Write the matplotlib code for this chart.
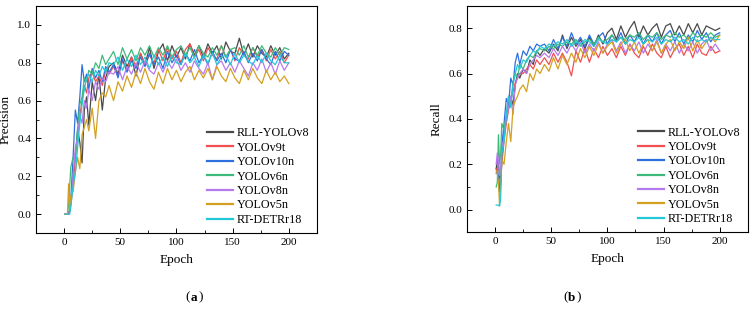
import matplotlib
matplotlib.use("Agg")
import matplotlib.pyplot as plt
from matplotlib.ticker import MultipleLocator

plt.rcParams['font.family'] = ['Liberation Serif', 'DejaVu Serif']

epochs = [1, 2, 3, 4, 5, 6, 8, 10, 12, 14, 16, 18, 20, 22, 25, 28, 31, 34, 37, 40,
          44, 48, 52, 56, 60, 64, 68, 72, 76, 80, 84, 88, 92, 96, 100, 104, 108, 112, 116, 120,
          124, 128, 132, 136, 140, 144, 148, 152, 156, 160, 164, 168, 172, 176, 180, 184, 188, 192, 196, 200]

models = ['RLL-YOLOv8', 'YOLOv9t', 'YOLOv10n', 'YOLOv6n', 'YOLOv8n', 'YOLOv5n', 'RT-DETRr18']
colors = ['#4a4a4a', '#f0504f', '#2e6fe0', '#3dba7a', '#b57aee', '#d4a020', '#23c8d6']

# Precision
prec_rll = [0.0, 0.0, 0.0, 0.01, 0.02, 0.08, 0.18, 0.30, 0.45, 0.38, 0.27, 0.55, 0.62, 0.47, 0.70, 0.60, 0.74, 0.55, 0.72, 0.78,
            0.80, 0.74, 0.84, 0.78, 0.83, 0.73, 0.85, 0.79, 0.88, 0.77, 0.86, 0.90, 0.81, 0.89, 0.83, 0.88, 0.82, 0.90, 0.84, 0.89,
            0.83, 0.90, 0.85, 0.89, 0.82, 0.91, 0.86, 0.85, 0.93, 0.84, 0.90, 0.83, 0.89, 0.85, 0.83, 0.89, 0.84, 0.88, 0.82, 0.85]
prec_v9t = [0.0, 0.0, 0.0, 0.0, 0.01, 0.05, 0.15, 0.32, 0.40, 0.52, 0.60, 0.68, 0.64, 0.72, 0.75, 0.70, 0.73, 0.68, 0.76, 0.74,
            0.78, 0.73, 0.81, 0.76, 0.83, 0.78, 0.85, 0.79, 0.84, 0.80, 0.87, 0.81, 0.88, 0.82, 0.86, 0.80, 0.87, 0.90, 0.83, 0.87,
            0.81, 0.88, 0.84, 0.82, 0.89, 0.83, 0.87, 0.81, 0.88, 0.84, 0.82, 0.88, 0.83, 0.87, 0.81, 0.87, 0.82, 0.86, 0.80, 0.84]
prec_v10n = [0.0, 0.0, 0.0, 0.0, 0.02, 0.08, 0.30, 0.55, 0.48, 0.62, 0.79, 0.70, 0.74, 0.66, 0.77, 0.72, 0.76, 0.70, 0.78, 0.75,
             0.79, 0.72, 0.82, 0.75, 0.81, 0.77, 0.83, 0.78, 0.85, 0.79, 0.83, 0.77, 0.86, 0.80, 0.84, 0.79, 0.85, 0.81, 0.87, 0.80,
             0.84, 0.79, 0.86, 0.81, 0.85, 0.80, 0.87, 0.82, 0.81, 0.86, 0.80, 0.85, 0.81, 0.87, 0.82, 0.79, 0.86, 0.81, 0.86, 0.84]
prec_v6n = [0.0, 0.0, 0.0, 0.05, 0.15, 0.25, 0.30, 0.28, 0.45, 0.58, 0.62, 0.72, 0.70, 0.76, 0.74, 0.80, 0.77, 0.84, 0.79, 0.82,
            0.86, 0.79, 0.88, 0.82, 0.87, 0.81, 0.88, 0.84, 0.89, 0.83, 0.88, 0.84, 0.89, 0.83, 0.87, 0.89, 0.84, 0.88, 0.83, 0.89,
            0.85, 0.83, 0.88, 0.84, 0.89, 0.83, 0.87, 0.88, 0.84, 0.89, 0.83, 0.88, 0.84, 0.89, 0.85, 0.83, 0.88, 0.84, 0.88, 0.87]
prec_v8n = [0.0, 0.0, 0.0, 0.0, 0.02, 0.06, 0.20, 0.35, 0.40, 0.52, 0.48, 0.60, 0.56, 0.66, 0.60, 0.70, 0.66, 0.72, 0.70, 0.75,
            0.74, 0.78, 0.71, 0.78, 0.74, 0.80, 0.75, 0.81, 0.76, 0.74, 0.80, 0.75, 0.81, 0.77, 0.82, 0.76, 0.80, 0.75, 0.81, 0.77,
            0.74, 0.80, 0.71, 0.79, 0.81, 0.76, 0.80, 0.75, 0.81, 0.77, 0.73, 0.80, 0.76, 0.82, 0.75, 0.80, 0.74, 0.81, 0.76, 0.80]
prec_v5n = [0.0, 0.0, 0.0, 0.16, 0.03, 0.10, 0.12, 0.22, 0.30, 0.24, 0.42, 0.46, 0.50, 0.44, 0.56, 0.40, 0.60, 0.64, 0.62, 0.68,
            0.60, 0.70, 0.65, 0.73, 0.67, 0.75, 0.69, 0.77, 0.70, 0.66, 0.75, 0.69, 0.77, 0.71, 0.76, 0.70, 0.75, 0.78, 0.71, 0.76,
            0.72, 0.77, 0.71, 0.78, 0.73, 0.70, 0.77, 0.72, 0.69, 0.76, 0.71, 0.77, 0.72, 0.69, 0.76, 0.71, 0.75, 0.70, 0.73, 0.69]
prec_detr = [0.0, 0.0, 0.0, 0.0, 0.0, 0.04, 0.15, 0.22, 0.35, 0.48, 0.58, 0.66, 0.72, 0.74, 0.70, 0.76, 0.73, 0.78, 0.75, 0.80,
             0.79, 0.83, 0.76, 0.82, 0.78, 0.84, 0.79, 0.83, 0.77, 0.84, 0.79, 0.83, 0.78, 0.84, 0.80, 0.79, 0.85, 0.80, 0.83, 0.78,
             0.84, 0.80, 0.85, 0.79, 0.83, 0.84, 0.79, 0.85, 0.80, 0.84, 0.81, 0.79, 0.84, 0.80, 0.85, 0.81, 0.79, 0.84, 0.80, 0.80]

# Recall
rec_rll = [0.18, 0.22, 0.20, 0.15, 0.12, 0.22, 0.33, 0.40, 0.45, 0.50, 0.46, 0.55, 0.60, 0.58, 0.62, 0.60, 0.66, 0.64, 0.70, 0.68,
           0.71, 0.69, 0.73, 0.70, 0.77, 0.71, 0.76, 0.72, 0.75, 0.71, 0.76, 0.72, 0.77, 0.73, 0.78, 0.80, 0.75, 0.81, 0.76, 0.80,
           0.83, 0.76, 0.81, 0.77, 0.80, 0.82, 0.76, 0.81, 0.82, 0.77, 0.81, 0.77, 0.82, 0.78, 0.82, 0.77, 0.81, 0.80, 0.79, 0.80]
rec_v9t = [0.18, 0.16, 0.14, 0.10, 0.12, 0.20, 0.30, 0.38, 0.44, 0.48, 0.52, 0.56, 0.58, 0.60, 0.60, 0.62, 0.64, 0.62, 0.66, 0.64,
           0.67, 0.64, 0.69, 0.65, 0.69, 0.65, 0.59, 0.70, 0.65, 0.71, 0.65, 0.71, 0.67, 0.72, 0.68, 0.71, 0.67, 0.72, 0.68, 0.73,
           0.69, 0.67, 0.72, 0.68, 0.73, 0.69, 0.67, 0.72, 0.67, 0.71, 0.73, 0.68, 0.72, 0.67, 0.73, 0.69, 0.68, 0.72, 0.69, 0.70]
rec_v10n = [0.16, 0.17, 0.15, 0.08, 0.12, 0.28, 0.38, 0.49, 0.46, 0.58, 0.55, 0.65, 0.69, 0.64, 0.70, 0.68, 0.72, 0.70, 0.73, 0.72,
            0.73, 0.70, 0.75, 0.71, 0.76, 0.72, 0.78, 0.73, 0.76, 0.72, 0.77, 0.73, 0.76, 0.78, 0.73, 0.77, 0.74, 0.78, 0.73, 0.77,
            0.74, 0.78, 0.73, 0.77, 0.74, 0.78, 0.73, 0.77, 0.79, 0.74, 0.78, 0.73, 0.77, 0.74, 0.79, 0.75, 0.78, 0.74, 0.77, 0.78]
rec_v6n = [0.10, 0.12, 0.33, 0.20, 0.25, 0.38, 0.35, 0.42, 0.50, 0.48, 0.56, 0.60, 0.58, 0.64, 0.62, 0.66, 0.68, 0.67, 0.70, 0.71,
           0.70, 0.72, 0.71, 0.73, 0.72, 0.74, 0.73, 0.75, 0.72, 0.74, 0.75, 0.73, 0.76, 0.74, 0.75, 0.77, 0.74, 0.76, 0.75, 0.77,
           0.76, 0.78, 0.75, 0.77, 0.76, 0.78, 0.75, 0.77, 0.76, 0.78, 0.76, 0.77, 0.75, 0.78, 0.76, 0.77, 0.76, 0.78, 0.76, 0.77]
rec_v8n = [0.20, 0.25, 0.22, 0.15, 0.18, 0.26, 0.32, 0.40, 0.45, 0.50, 0.42, 0.55, 0.58, 0.60, 0.62, 0.60, 0.64, 0.66, 0.68, 0.67,
           0.69, 0.67, 0.71, 0.68, 0.72, 0.69, 0.73, 0.70, 0.74, 0.69, 0.73, 0.70, 0.74, 0.69, 0.73, 0.75, 0.70, 0.74, 0.69, 0.73,
           0.70, 0.74, 0.69, 0.73, 0.70, 0.75, 0.69, 0.73, 0.70, 0.74, 0.69, 0.73, 0.70, 0.74, 0.69, 0.73, 0.75, 0.70, 0.73, 0.70]
rec_v5n = [0.17, 0.16, 0.12, 0.02, 0.10, 0.22, 0.20, 0.30, 0.38, 0.30, 0.45, 0.48, 0.50, 0.53, 0.55, 0.52, 0.60, 0.57, 0.62, 0.60,
           0.64, 0.61, 0.67, 0.62, 0.68, 0.64, 0.69, 0.65, 0.71, 0.67, 0.72, 0.68, 0.73, 0.69, 0.72, 0.74, 0.69, 0.73, 0.75, 0.70,
           0.74, 0.69, 0.73, 0.75, 0.70, 0.74, 0.69, 0.73, 0.75, 0.70, 0.74, 0.71, 0.76, 0.70, 0.75, 0.71, 0.74, 0.76, 0.74, 0.77]
rec_detr = [0.02, 0.02, 0.02, 0.015, 0.05, 0.25, 0.30, 0.42, 0.50, 0.45, 0.55, 0.60, 0.64, 0.62, 0.66, 0.65, 0.68, 0.70, 0.69, 0.72,
            0.71, 0.73, 0.72, 0.74, 0.73, 0.75, 0.72, 0.74, 0.73, 0.75, 0.74, 0.72, 0.75, 0.74, 0.73, 0.75, 0.74, 0.76, 0.73, 0.75,
            0.74, 0.76, 0.73, 0.75, 0.74, 0.76, 0.73, 0.75, 0.74, 0.76, 0.74, 0.75, 0.73, 0.76, 0.74, 0.75, 0.74, 0.76, 0.75, 0.75]

precision = [prec_rll, prec_v9t, prec_v10n, prec_v6n, prec_v8n, prec_v5n, prec_detr]
recall = [rec_rll, rec_v9t, rec_v10n, rec_v6n, rec_v8n, rec_v5n, rec_detr]

fig = plt.figure(figsize=(7.55, 3.15), dpi=100)
ax1 = fig.add_axes([0.0477, 0.2603, 0.372, 0.7206])
ax2 = fig.add_axes([0.6185, 0.2625, 0.372, 0.7200])


def draw_panel(ax, data, ylabel, ylim):
    for vals, name, c in zip(data, models, colors):
        ax.plot(epochs, vals, color=c, lw=0.9, label=name)
    ax.set_xlim(-25, 225)
    ax.set_ylim(*ylim)
    ax.xaxis.set_major_locator(MultipleLocator(50))
    ax.xaxis.set_minor_locator(MultipleLocator(25))
    ax.yaxis.set_major_locator(MultipleLocator(0.2))
    ax.yaxis.set_minor_locator(MultipleLocator(0.1))
    ax.yaxis.set_major_formatter(plt.FormatStrFormatter('%.1f'))
    ax.tick_params(which='both', direction='in', top=False, right=False, labelsize=8)
    ax.tick_params(which='major', length=3.5, width=0.7)
    ax.tick_params(which='minor', length=2, width=0.6)
    for s in ax.spines.values():
        s.set_linewidth(0.8)
    ax.set_xlabel('Epoch', fontsize=9.5, labelpad=5)
    ax.set_ylabel(ylabel, fontsize=9.5, labelpad=4)
    leg = ax.legend(loc='lower right', frameon=False, fontsize=8.7, handlelength=2.2,
                    handletextpad=0.3, labelspacing=0.2, borderaxespad=0.2)
    for h in leg.legend_handles:
        h.set_linewidth(1.6)


draw_panel(ax1, precision, 'Precision', (-0.1, 1.1))
draw_panel(ax2, recall, 'Recall', (-0.1, 0.9))

fig.text(0.252, 0.055, '(', fontsize=9.5, ha='right', va='center')
fig.text(0.252, 0.055, 'a', fontsize=9.5, fontweight='bold', ha='left', va='center')
fig.text(0.263, 0.055, ')', fontsize=9.5, ha='left', va='center')
fig.text(0.752, 0.055, '(', fontsize=9.5, ha='right', va='center')
fig.text(0.752, 0.055, 'b', fontsize=9.5, fontweight='bold', ha='left', va='center')
fig.text(0.764, 0.055, ')', fontsize=9.5, ha='left', va='center')

fig.savefig('out.png', dpi=100)
